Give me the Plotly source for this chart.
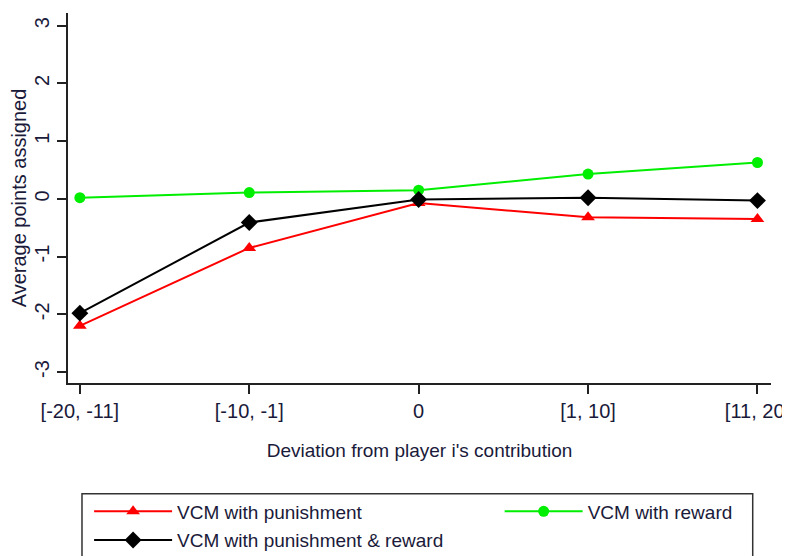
import plotly.graph_objects as go

categories = ["[-20, -11]", "[-10, -1]", "0", "[1, 10]", "[11, 20]"]
punishment = [-2.20, -0.85, -0.07, -0.32, -0.35]
reward = [0.02, 0.11, 0.15, 0.43, 0.63]
pun_rew = [-1.98, -0.41, -0.01, 0.02, -0.03]
y_ticks = [-3, -2, -1, 0, 1, 2, 3]

x = list(range(len(categories)))
font = "Liberation Sans, Arial, sans-serif"
txt = "#1a1a3a"

fig = go.Figure()
fig.add_trace(go.Scatter(x=x, y=punishment, name="VCM with punishment", mode="lines+markers",
                         legend="legend", legendgroup="a",
                         line=dict(color="#ff0000", width=2),
                         marker=dict(symbol="triangle-up", size=12, color="#ff0000")))
fig.add_trace(go.Scatter(x=x, y=reward, name="VCM with reward", mode="lines+markers",
                         legend="legend2",
                         line=dict(color="#00ee00", width=2),
                         marker=dict(symbol="circle", size=11, color="#00ee00")))
fig.add_trace(go.Scatter(x=x, y=pun_rew, name="VCM with punishment & reward", mode="lines+markers",
                         legend="legend", legendgroup="b",
                         line=dict(color="#000000", width=2),
                         marker=dict(symbol="diamond", size=13, color="#000000")))

fig.add_shape(type="rect", xref="paper", yref="paper",
              x0=0.0199, x1=0.974, y0=-0.299, y1=-0.5,
              line=dict(color="#333", width=1.5), fillcolor="rgba(0,0,0,0)", layer="below")

fig.update_layout(
    width=790, height=548,
    margin=dict(l=60, r=27, t=5, b=173, autoexpand=False),
    paper_bgcolor="white", plot_bgcolor="white",
    font=dict(family=font, size=19, color=txt),
    xaxis=dict(range=[-0.07, 4.08], tickmode="array", tickvals=x, ticktext=categories,
               automargin=False, ticklabeloverflow="allow",
               showgrid=False, zeroline=False, showline=True, linecolor="#222", linewidth=2,
               ticks="outside", ticklen=9, tickcolor="#222", tickwidth=2,
               tickfont=dict(size=20, color=txt),
               title=dict(text="Deviation from player i's contribution", standoff=23,
                          font=dict(size=19, color=txt))),
    yaxis=dict(range=[-3.19, 3.22], tickmode="array", tickvals=y_ticks,
               ticktext=[str(v) for v in y_ticks], tickangle=-90,
               automargin=False,
               showgrid=False, zeroline=False, showline=True, linecolor="#222", linewidth=2,
               ticks="outside", ticklen=9, tickcolor="#222", tickwidth=2,
               tickfont=dict(size=20, color=txt),
               title=dict(text="Average points assigned", standoff=4,
                          font=dict(size=20, color=txt))),
    legend=dict(orientation="v", x=0.030, xanchor="left", y=-0.296, yanchor="top",
                itemwidth=78, tracegroupgap=1, bgcolor="rgba(0,0,0,0)", borderwidth=0,
                font=dict(size=19, color=txt), traceorder="grouped"),
    legend2=dict(orientation="v", x=0.614, xanchor="left", y=-0.296, yanchor="top",
                 itemwidth=78, bgcolor="rgba(0,0,0,0)", borderwidth=0,
                 font=dict(size=19, color=txt)),
    showlegend=True,
)

fig.write_html("out.html")
